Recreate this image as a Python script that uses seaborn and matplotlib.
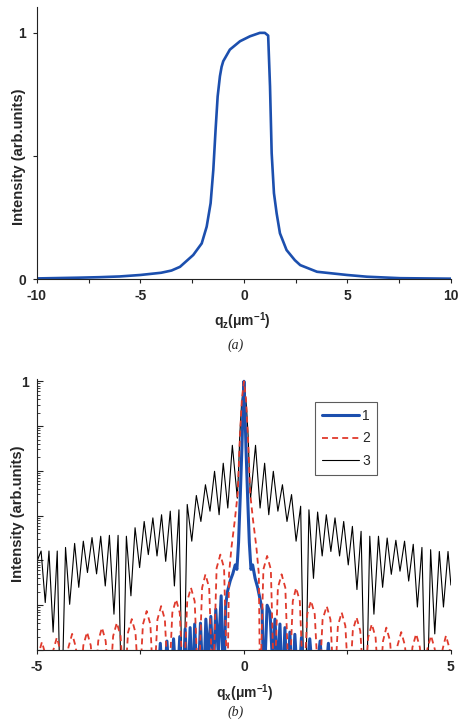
import numpy as np
import pandas as pd
import matplotlib
matplotlib.use("Agg")
import matplotlib.pyplot as plt
import seaborn as sns
from matplotlib.ticker import FixedLocator, FixedFormatter, LogLocator, NullFormatter, MultipleLocator

# ---------------- data: panel (a) ----------------
qz = [-10, -8, -7, -6, -5, -4, -3.5, -3.09, -2.45, -2.04, -1.80, -1.61, -1.48, -1.37,
      -1.27, -1.16, -1.08, -1.0, -0.68, -0.19, 0.29, 0.77, 1.01, 1.17, 1.26, 1.34,
      1.45, 1.58, 1.74, 2.06, 2.46, 2.72, 3.53, 4.98, 5.94, 7.55, 10]
Iz = [0.004, 0.007, 0.009, 0.012, 0.018, 0.027, 0.036, 0.051, 0.099, 0.146, 0.214,
      0.309, 0.444, 0.607, 0.742, 0.824, 0.862, 0.885, 0.932, 0.966, 0.986, 1.0, 1.0,
      0.989, 0.783, 0.512, 0.35, 0.268, 0.187, 0.119, 0.078, 0.058, 0.031, 0.018,
      0.011, 0.005, 0.003]

# ---------------- data: panel (b), log10 intensities ----------------
blue_q = [-2.10, -2.02, -1.95, -1.86, -1.78, -1.70, -1.62, -1.55, -1.48, -1.42, -1.36,
          -1.30, -1.24, -1.19, -1.12, -1.05, -0.98, -0.92, -0.86, -0.80, -0.74, -0.68,
          -0.62, -0.55, -0.49, -0.44, -0.40, -0.33, -0.27, -0.21, -0.17, -0.13, -0.09,
          -0.05, -0.02, 0.0, 0.02, 0.05, 0.09, 0.13, 0.17, 0.21, 0.27, 0.33, 0.39, 0.44,
          0.48, 0.56, 0.63, 0.69, 0.75, 0.81, 0.87, 0.93, 0.99, 1.05, 1.11, 1.17, 1.23,
          1.31, 1.39, 1.48, 1.59, 1.70, 1.84, 1.94, 2.04, 2.12]
blue_log = [-7, -5.85, -7, -5.8, -7, -5.75, -7, -5.7, -7, -5.53, -7,
            -5.5, -7, -5.42, -7, -5.4, -7, -5.31, -6.2, -5.25, -6.5, -5.09,
            -6.1, -4.79, -7, -5.0, -4.7, -4.45, -4.3, -4.1, -4.2, -3.6, -2.6,
            -1.5, -0.5, 0.0, -0.5, -1.5, -2.6, -3.6, -4.2, -4.1, -4.4, -4.6, -4.87, -5.1,
            -7, -5.0, -5.16, -6.3, -5.31, -6.5, -5.42, -7, -5.5, -7, -5.6, -7, -5.65,
            -7, -5.72, -7, -5.75, -7, -5.8, -7, -5.85, -7]

red_q = [-5.00, -4.97, -4.88, -4.79, -4.70, -4.61, -4.52, -4.43, -4.33, -4.24, -4.15,
         -4.06, -3.97, -3.88, -3.79, -3.70, -3.61, -3.52, -3.43, -3.34, -3.25, -3.16,
         -3.07, -2.98, -2.89, -2.80, -2.71, -2.62, -2.53, -2.44, -2.35, -2.26, -2.18,
         -2.09, -2.00, -1.91, -1.82, -1.73, -1.64, -1.55, -1.46, -1.37, -1.28, -1.19,
         -1.10, -1.01, -0.93, -0.84, -0.75, -0.66, -0.57, -0.48, -0.40, -0.36, -0.30,
         -0.22, -0.15, -0.10, -0.05, 0.0, 0.05, 0.10, 0.15, 0.22, 0.30, 0.36, 0.39,
         0.47, 0.56, 0.65, 0.73, 0.82, 0.91, 1.00, 1.09, 1.18, 1.26, 1.35, 1.44, 1.53,
         1.62, 1.71, 1.81, 1.90, 2.00, 2.09, 2.18, 2.27, 2.36, 2.45, 2.54, 2.63, 2.72,
         2.81, 2.91, 3.00, 3.09, 3.18, 3.27, 3.36, 3.44, 3.53, 3.62, 3.71, 3.80, 3.89,
         3.98, 4.07, 4.16, 4.25, 4.34, 4.43, 4.52, 4.61, 4.71, 4.80, 4.88, 4.97, 5.00]
red_log = [-6.4, -6.12, -5.82, -6.12, -7, -6.02, -5.72, -6.02, -7, -5.94, -5.64,
           -5.94, -7, -5.9, -5.6, -5.9, -7, -5.8, -5.5, -5.8, -7, -5.69,
           -5.39, -5.69, -7, -5.61, -5.31, -5.61, -7, -5.43, -5.13, -5.43, -7,
           -5.32, -5.02, -5.32, -7, -5.17, -4.87, -5.17, -7, -4.91, -4.61, -4.91,
           -7, -4.61, -4.31, -4.61, -7, -4.17, -3.87, -4.17, -7, -4.3, -3.7,
           -3.1, -2.5, -1.3, -0.4, 0.0, -0.4, -1.3, -2.5, -3.1, -3.7, -4.3, -7,
           -4.2, -3.9, -4.2, -7, -4.61, -4.31, -4.61, -7, -4.91, -4.61, -4.91, -7, -5.2,
           -4.9, -5.2, -7, -5.32, -5.02, -5.32, -7, -5.46, -5.16, -5.46, -7, -5.57, -5.27,
           -5.57, -7, -5.72, -5.42, -5.72, -7, -5.8, -5.5, -5.8, -7, -5.9, -5.6, -5.9,
           -7, -5.94, -5.64, -5.94, -7, -5.98, -5.68, -5.98, -7, -5.98, -5.68, -5.98, -6.3]

black_q = [-5.00, -4.90, -4.80, -4.71, -4.61, -4.51, -4.42, -4.31, -4.21, -4.09, -3.99,
           -3.88, -3.78, -3.67, -3.56, -3.46, -3.35, -3.25, -3.14, -3.04, -2.94, -2.84,
           -2.73, -2.63, -2.52, -2.41, -2.31, -2.20, -2.10, -1.99, -1.89, -1.78, -1.68,
           -1.57, -1.47, -1.37, -1.26, -1.15, -1.04, -0.93, -0.82, -0.71, -0.60, -0.50,
           -0.39, -0.28, -0.16, -0.13, -0.10, -0.06, 0.0, 0.06, 0.10, 0.13, 0.16, 0.28,
           0.39, 0.50, 0.60, 0.71, 0.82, 0.93, 1.04, 1.15, 1.26, 1.37, 1.47, 1.57, 1.68,
           1.78, 1.89, 1.99, 2.10, 2.20, 2.31, 2.41, 2.52, 2.62, 2.73, 2.83, 2.94, 3.04,
           3.14, 3.25, 3.35, 3.46, 3.56, 3.67, 3.77, 3.88, 3.98, 4.09, 4.19, 4.30, 4.41,
           4.51, 4.61, 4.72, 4.82, 4.93, 5.00]
black_log = [-4.02, -3.79, -4.94, -3.79, -5.60, -3.79, -8, -3.71, -4.98, -3.62, -4.60,
             -3.57, -4.27, -3.49, -4.30, -3.46, -4.57, -3.44, -5.20, -3.44, -8, -3.46,
             -4.79, -3.27, -4.16, -3.13, -3.87, -3.05, -3.90, -2.98, -4.02, -2.90, -4.57,
             -2.87, -8, -2.75, -3.57, -2.55, -3.13, -2.31, -2.90, -2.01, -2.98, -1.83,
             -2.83, -1.43, -2.61, -2.0, -1.2, -0.55, 0.0, -0.55, -1.2, -2.0, -2.61, -1.43,
             -2.83, -1.83, -2.98, -2.01, -2.90, -2.31, -3.13, -2.53, -3.57, -2.79, -8, -2.87,
             -4.40, -2.92, -3.90, -2.98, -3.80, -3.05, -3.90, -3.13, -4.10, -3.24, -4.65,
             -3.35, -8, -3.46, -5.20, -3.46, -4.60, -3.50, -4.31, -3.55, -4.24, -3.57,
             -4.46, -3.64, -5.04, -3.71, -8, -3.76, -5.64, -3.80, -5.04, -3.80, -4.55]

series_labels = ["1", "2", "3"]

# ---------------- styling ----------------
sns.set_style("ticks")
plt.rcParams['font.family'] = ['Liberation Sans', 'DejaVu Sans']
plt.rcParams['font.weight'] = 'bold'
plt.rcParams['axes.unicode_minus'] = False
plt.rcParams['mathtext.fontset'] = 'custom'
plt.rcParams['mathtext.rm'] = 'Liberation Sans:bold'
plt.rcParams['mathtext.it'] = 'Liberation Sans:bold'
plt.rcParams['mathtext.bf'] = 'Liberation Sans:bold'
plt.rcParams['mathtext.default'] = 'rm'

BLUE = '#1c4fae'
RED = '#e03a2c'

fig = plt.figure(figsize=(4.62, 7.22), dpi=100)
axa = fig.add_axes([0.080, 0.613, 0.896, 0.377])
axb = fig.add_axes([0.080, 0.0997, 0.896, 0.376])

for ax in (axa, axb):
    for s in ('top', 'right'):
        ax.spines[s].set_visible(False)
    for s in ('left', 'bottom'):
        ax.spines[s].set_linewidth(0.8)
        ax.spines[s].set_color('#222222')

# ----- panel (a)
dfa = pd.DataFrame({'q': qz, 'I': Iz})
sns.lineplot(data=dfa, x='q', y='I', ax=axa, color=BLUE, lw=1.9, estimator=None, sort=False)
axa.set_xlim(-10, 10)
axa.set_ylim(0, 1.104)
axa.xaxis.set_major_locator(FixedLocator([-10, -5, 0, 5, 10]))
axa.xaxis.set_minor_locator(MultipleLocator(2.5))
axa.yaxis.set_major_locator(FixedLocator([0, 0.5, 1]))
axa.yaxis.set_major_formatter(FixedFormatter(['0', '', '1']))
axa.tick_params(axis='both', which='both', direction='out', length=3, width=0.8,
                labelsize=10, color='#222222')
axa.tick_params(axis='x', pad=4)
axa.tick_params(axis='y', pad=5)
axa.set_xlabel('q$_{z}$(μm$^{-1}$)', fontsize=10, fontweight='bold')
axa.set_ylabel('Intensity (arb.units)', fontsize=10.6, fontweight='bold')
axa.xaxis.set_label_coords(0.496, -0.113)
axa.yaxis.set_label_coords(-0.026, 0.45)

# ----- panel (b)
dfb1 = pd.DataFrame({'q': blue_q, 'I': 10.0 ** np.array(blue_log)})
dfb2 = pd.DataFrame({'q': red_q, 'I': 10.0 ** np.array(red_log)})
dfb3 = pd.DataFrame({'q': black_q, 'I': 10.0 ** np.array(black_log)})
sns.lineplot(data=dfb1, x='q', y='I', ax=axb, color=BLUE, lw=2.2, estimator=None,
             sort=False, zorder=3, label=series_labels[0])
sns.lineplot(data=dfb2, x='q', y='I', ax=axb, color=RED, lw=1.3, estimator=None,
             sort=False, zorder=4, label=series_labels[1])
sns.lineplot(data=dfb3, x='q', y='I', ax=axb, color='black', lw=0.8, estimator=None,
             sort=False, zorder=2, label=series_labels[2])
lines = axb.get_lines()
lines[1].set_dashes((3.3, 2.3))
axb.set_yscale('log')
axb.set_xlim(-5, 5)
axb.set_ylim(1e-6, 1.15)
axb.xaxis.set_major_locator(FixedLocator([-5, 0, 5]))
axb.xaxis.set_minor_locator(FixedLocator([-2.5, 2.5]))
axb.yaxis.set_major_locator(LogLocator(base=10, numticks=20))
axb.yaxis.set_major_formatter(plt.FuncFormatter(lambda v, p: '1' if abs(v - 1) < 1e-9 else ''))
axb.yaxis.set_minor_locator(LogLocator(base=10, subs=np.arange(2, 10), numticks=20))
axb.yaxis.set_minor_formatter(NullFormatter())
axb.tick_params(axis='x', which='both', direction='out', length=3, width=0.8,
                labelsize=10, pad=4, color='#222222')
axb.tick_params(axis='y', which='major', direction='in', length=4, width=0.8,
                labelsize=10, pad=6, color='#222222')
axb.tick_params(axis='y', which='minor', direction='in', length=2, width=0.6, color='#222222')
axb.set_xlabel('q$_{x}$(μm$^{-1}$)', fontsize=10, fontweight='bold')
axb.set_ylabel('Intensity (arb.units)', fontsize=10.6, fontweight='bold')
axb.xaxis.set_label_coords(0.502, -0.121)
axb.yaxis.set_label_coords(-0.029, 0.503)

leg = axb.legend(handles=lines[:3], labels=series_labels, loc='upper left',
                 bbox_to_anchor=(0.671, 0.914), borderaxespad=0, frameon=True,
                 fancybox=False, edgecolor='#333333', handlelength=2.7,
                 handletextpad=0.2, labelspacing=0.62, borderpad=0.5,
                 prop={'family': 'Liberation Sans', 'weight': 'normal', 'size': 10})
leg.get_frame().set_linewidth(0.8)

fig.text(0.509, 0.522, '(a)', family='Liberation Serif', style='italic',
         fontweight='normal', fontsize=10, ha='center', va='center')
fig.text(0.511, 0.013, '(b)', family='Liberation Serif', style='italic',
         fontweight='normal', fontsize=10, ha='center', va='center')

fig.savefig('out.png', dpi=100)
